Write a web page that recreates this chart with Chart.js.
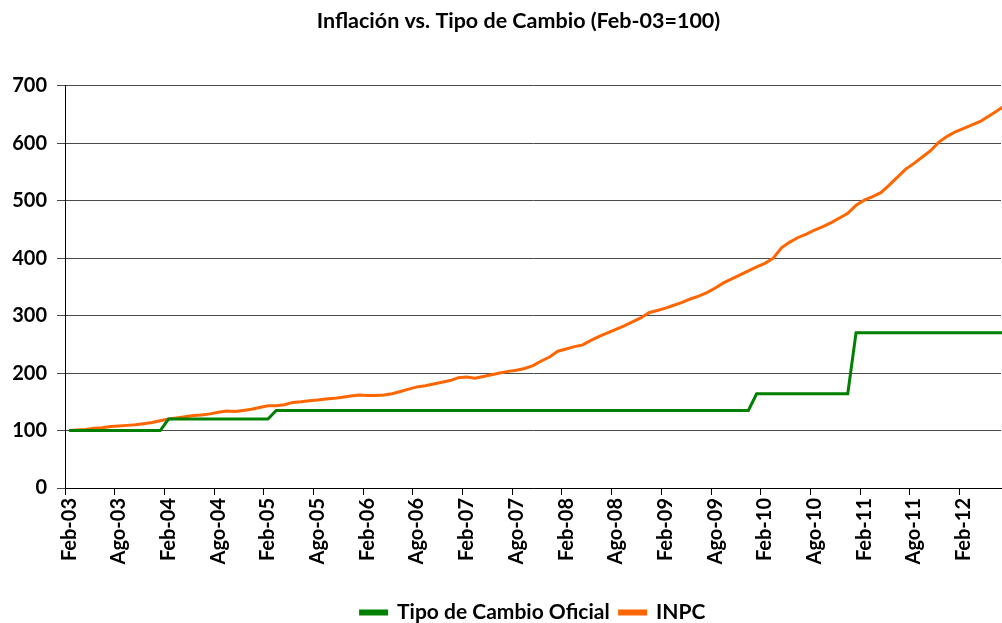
<!DOCTYPE html>
<html>
<head>
<meta charset="utf-8">
<script src="https://cdn.jsdelivr.net/npm/chart.js@4.4.1/dist/chart.umd.min.js"></script>
<style>
  html, body { margin: 0; padding: 0; background: #fff; }
  #wrap { width: 1002px; height: 623px; }
</style>
</head>
<body>
<div id="wrap"><canvas id="chart"></canvas></div>
<script>
// Monthly labels, Feb-03 .. Jul-12 (axis stops at Jun-12, the last month is cut at the edge)
const months = ["Ene", "Feb", "Mar", "Abr", "May", "Jun", "Jul", "Ago", "Sep", "Oct", "Nov", "Dic"];
const labels = [];
for (let k = 1; k < 1 + 114; k++) {
  const m = k % 12;
  const y = 3 + Math.floor(k / 12);
  labels.push(months[m] + "-" + String(y).padStart(2, "0"));
}
const lastShown = "Jun-12";

// Tipo de Cambio Oficial (Feb-03 = 100)
const tipoCambio = [
  100, 100, 100, 100, 100, 100, 100, 100, 100, 100, 100, 100,
  120, 120, 120, 120, 120, 120, 120, 120, 120, 120, 120, 120, 120,
  135, 135, 135, 135, 135, 135, 135, 135, 135, 135, 135, 135,
  135, 135, 135, 135, 135, 135, 135, 135, 135, 135, 135, 135,
  135, 135, 135, 135, 135, 135, 135, 135, 135, 135, 135, 135,
  135, 135, 135, 135, 135, 135, 135, 135, 135, 135, 135, 135,
  135, 135, 135, 135, 135, 135, 135, 135, 135, 135,
  164, 164, 164, 164, 164, 164, 164, 164, 164, 164, 164, 164,
  270, 270, 270, 270, 270, 270, 270, 270, 270, 270, 270, 270,
  270, 270, 270, 270, 270, 270, 270
];

// INPC (Feb-03 = 100)
const inpc = [
  100, 101, 102, 104, 105, 107, 108, 109, 110, 112, 114, 117,
  120, 122, 124, 126, 127, 129, 132, 134, 133, 135, 137, 140,
  143, 143, 145, 149, 150, 152, 153, 155, 156, 158, 160, 162,
  161, 161, 162, 164, 168, 172, 176, 178, 181, 184, 187, 192,
  193, 191, 194, 197, 200, 203, 205, 208, 213, 221, 228, 238,
  242, 246, 249, 257, 264, 270, 276, 282, 289, 296, 305, 309,
  313, 318, 323, 329, 334, 340, 348, 357, 364, 371, 378, 385,
  391, 400, 418, 428, 436, 442, 449, 455, 462, 470, 478, 492,
  501, 507, 514, 527, 541, 555, 565, 576, 587, 602, 612, 620,
  626, 632, 638, 647, 656, 666
];

const GREEN = "#008000";
const ORANGE = "#ff6600";

Chart.defaults.font.family = "Lato, 'Open Sans', sans-serif";
Chart.defaults.font.weight = "bold";
Chart.defaults.color = "#000";

// y labels sit left of the layout padding; widen the label clip box
const unclipYLabels = {
  id: "unclipYLabels",
  afterLayout(chart) {
    chart.scales.y.left = 0;
  },
};

new Chart(document.getElementById("chart"), {
  type: "line",
  data: {
    labels: labels,
    datasets: [
      {
        label: "Tipo de Cambio Oficial",
        data: tipoCambio,
        borderColor: GREEN,
        backgroundColor: GREEN,
        borderWidth: 3,
        pointRadius: 0,
        tension: 0,
      },
      {
        label: "INPC",
        data: inpc,
        borderColor: ORANGE,
        backgroundColor: ORANGE,
        borderWidth: 3,
        pointRadius: 0,
        tension: 0,
      },
    ],
  },
  plugins: [unclipYLabels],
  options: {
    responsive: true,
    maintainAspectRatio: false,
    animation: false,
    layout: { padding: { left: 36, right: 1, top: 0, bottom: -10 } },
    plugins: {
      title: {
        display: true,
        text: "Inflación vs. Tipo de Cambio (Feb-03=100)",
        font: { size: 21.5, weight: "bold" },
        padding: { top: 8, bottom: 52 },
      },
      legend: {
        position: "bottom",
        fullSize: false,
        labels: {
          boxWidth: 26,
          boxHeight: 3,
          padding: 10,
          font: { size: 21, weight: "bold" },
        },
      },
      tooltip: { enabled: false },
    },
    scales: {
      x: {
        offset: true,
        // stop the axis at Jun-12 without marking it as a user bound,
        // so the Jul-12 point is still drawn (and clipped at the edge)
        afterDataLimits: (s) => { s.max = labels.indexOf(lastShown); },
        afterFit: (s) => {
          s.height = 104;
          s.paddingLeft = 0;
          s.paddingRight = 0;
        },
        grid: {
          offset: true,
          drawOnChartArea: false,
          drawTicks: true,
          tickLength: 7,
          color: (ctx) => (ctx.index % 6 === 0 ? "#000" : "rgba(0,0,0,0)"),
        },
        border: { display: true, color: "#000", width: 1 },
        ticks: {
          autoSkip: false,
          maxRotation: 90,
          minRotation: 90,
          padding: 3,
          font: { size: 20, weight: "bold" },
          callback: function (value, index) {
            return index % 6 === 0 ? this.getLabelForValue(value) : "";
          },
        },
      },
      y: {
        min: 0,
        max: 700,
        afterFit: (s) => { s.width = 29; },
        grid: {
          color: "#4a4a4a",
          lineWidth: 1,
          tickLength: 8,
        },
        border: { display: true, color: "#000", width: 1 },
        ticks: {
          stepSize: 100,
          padding: 10,
          font: { size: 20, weight: "bold" },
        },
      },
    },
  },
});
</script>
</body>
</html>
